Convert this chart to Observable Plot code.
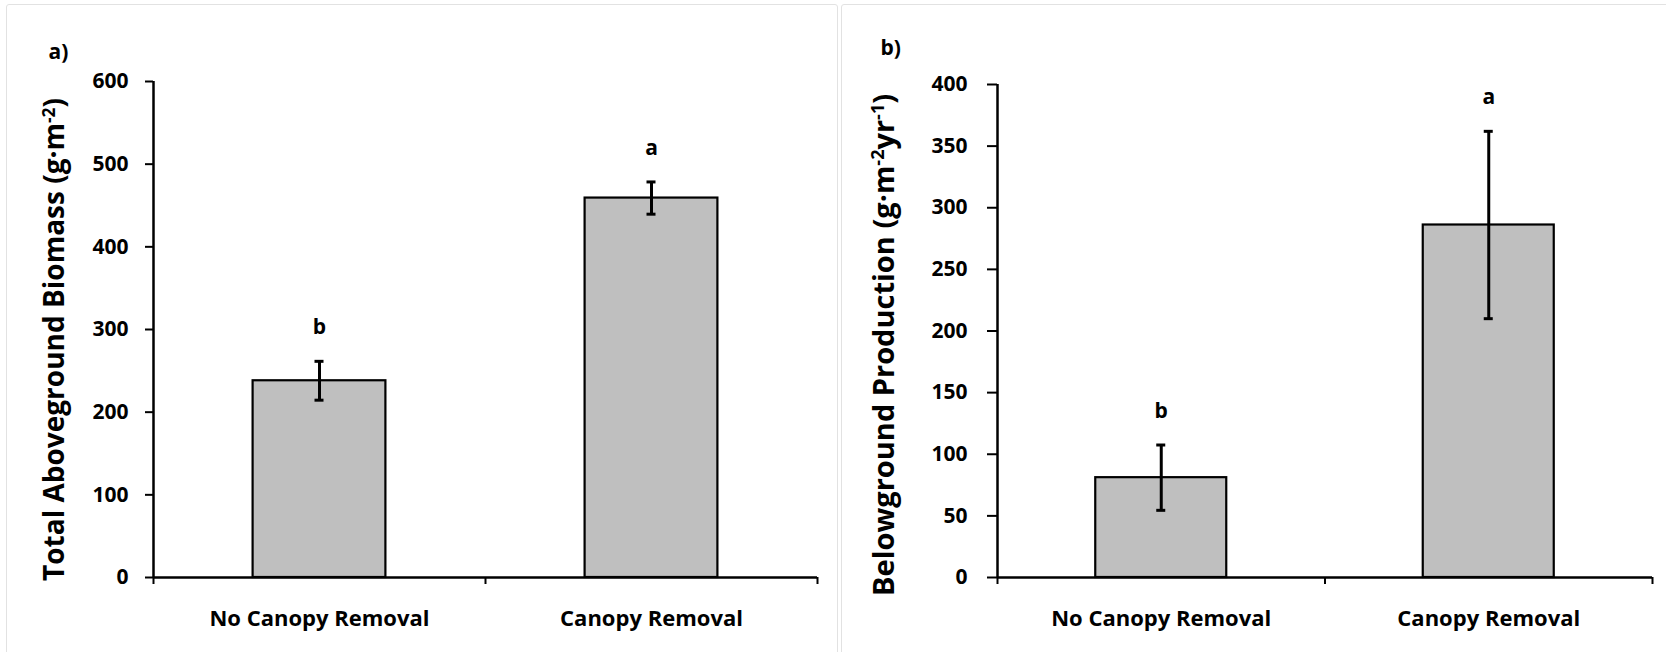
<!DOCTYPE html>
<html>
<head>
<meta charset="utf-8">
<script src="https://cdn.jsdelivr.net/npm/d3@7"></script>
<script src="https://cdn.jsdelivr.net/npm/@observablehq/plot@0.6"></script>
<style>
  body { margin: 0; background: #fff; }
  #page { position: relative; width: 1666px; height: 652px; overflow: hidden; background: #fff; }
  .panel { position: absolute; border: 1px solid #e2e2e2; border-radius: 3px; }
  .chart { position: absolute; top: 0; }
</style>
</head>
<body>
<div id="page">
  <div class="panel" style="left:6px;top:4px;width:830px;height:720px"></div>
  <div class="panel" style="left:841px;top:4px;width:840px;height:720px"></div>
</div>
<script>
// Treatments shared by both panels
const categories = ["No Canopy Removal", "Canopy Removal"];

// Panel a: total aboveground biomass (g·m-2), mean ± SE
const aboveMean = [238, 459];
const aboveSE = [23.5, 19.5];
const aboveLetters = ["b", "a"];
const aboveTicks = [0, 100, 200, 300, 400, 500, 600];
const aboveTitle = [["Total Aboveground Biomass (g·m", false], ["-2", true], [")", false]];

// Panel b: belowground production (g·m-2·yr-1), mean ± SE
const belowMean = [81, 286];
const belowSE = [26.5, 76];
const belowLetters = ["b", "a"];
const belowTicks = [0, 50, 100, 150, 200, 250, 300, 350, 400];
const belowTitle = [["Belowground Production (g·m", false], ["-2", true], ["yr", false], ["-1", true], [")", false]];

const font = "'Open Sans', 'DejaVu Sans', sans-serif";

function panel(o) {
  const rows = categories.map((cat, i) => ({cat, i, mean: o.means[i], se: o.errs[i], letter: o.letters[i]}));
  const mid = d => d.i + 0.5;
  const titleText = o.title.map(p => p[0]).join("");
  const svg = Plot.plot({
    width: o.width,
    height: 652,
    marginLeft: o.marginLeft,
    marginRight: o.marginRight,
    marginTop: o.marginTop,
    marginBottom: 75,
    style: {fontFamily: font, fontSize: "21px", fontWeight: 700, color: "#000", background: "transparent", overflow: "visible"},
    x: {domain: [0, categories.length], axis: null},
    y: {domain: [0, o.ticks[o.ticks.length - 1]], axis: null},
    marks: [
      Plot.rectY(rows, {x1: d => d.i + 0.3, x2: d => d.i + 0.7, y: "mean", fill: "#bfbfbf", stroke: "#000", strokeWidth: 2.2}),
      Plot.ruleX(rows, {x: mid, y1: d => d.mean - d.se, y2: d => d.mean + d.se, stroke: "#000", strokeWidth: 3}),
      Plot.ruleY(rows, {y: d => d.mean + d.se, x1: mid, x2: mid, insetLeft: -4.5, insetRight: -4.5, stroke: "#000", strokeWidth: 3}),
      Plot.ruleY(rows, {y: d => d.mean - d.se, x1: mid, x2: mid, insetLeft: -4.5, insetRight: -4.5, stroke: "#000", strokeWidth: 3}),
      Plot.text(rows, {x: mid, y: d => d.mean + d.se, dy: -34, text: "letter", fontSize: 21, fontWeight: 700, fill: "#000"}),
      Plot.axisY({ticks: o.ticks, tickSize: o.tickSize, tickPadding: o.tickPadding, strokeWidth: 2, label: null, fontSize: 21}),
      Plot.axisX({ticks: d3.range(categories.length + 1), tickSize: 7, strokeWidth: 2, tickFormat: () => "", label: null}),
      Plot.axisX({ticks: categories.map((c, i) => i + 0.5), tickSize: 0, tickPadding: 33, tickFormat: v => categories[Math.floor(v)], label: null, fontSize: 22}),
      Plot.ruleX([0], {stroke: "#000", strokeWidth: 2.5}),
      Plot.ruleY([0], {stroke: "#000", strokeWidth: 2.5}),
      Plot.text([titleText], {frameAnchor: "left", rotate: -90, textAnchor: "middle", dx: o.titleDx, dy: o.titleDy, fontSize: o.titleSize, fontWeight: 700, fill: "#000"}),
      Plot.text([o.tag], {frameAnchor: "top-left", textAnchor: "start", dx: o.tagDx, dy: o.tagDy, fontSize: 21, fontWeight: 700, fill: "#000"})
    ]
  });
  // rebuild the axis title with raised unit exponents
  d3.select(svg).selectAll("text").filter(function () { return this.textContent === titleText; })
    .each(function () {
      const t = d3.select(this);
      t.text(null).attr("text-anchor", "middle");
      let raised = false;
      for (const [s, sup] of o.title) {
        const span = t.append("tspan").text(s);
        if (sup !== raised) span.attr("dy", sup ? "-0.55em" : "0.34em");
        if (sup) span.attr("font-size", "0.62em");
        raised = sup;
      }
    });
  svg.classList.add("chart");
  svg.style.left = o.left + "px";
  return svg;
}

const page = document.getElementById("page");
page.appendChild(panel({
  means: aboveMean, errs: aboveSE, letters: aboveLetters, ticks: aboveTicks, title: aboveTitle, tag: "a)",
  left: 0, width: 840, marginLeft: 153, marginRight: 23, marginTop: 81,
  tickSize: 8, tickPadding: 17, titleSize: 28, titleDx: -98, titleDy: 10, tagDx: -105, tagDy: -37
}));
page.appendChild(panel({
  means: belowMean, errs: belowSE, letters: belowLetters, ticks: belowTicks, title: belowTitle, tag: "b)",
  left: 840, width: 826, marginLeft: 157, marginRight: 14, marginTop: 84,
  tickSize: 10, tickPadding: 20, titleSize: 29, titleDx: -113, titleDy: 14, tagDx: -117, tagDy: -44
}));
</script>
</body>
</html>
